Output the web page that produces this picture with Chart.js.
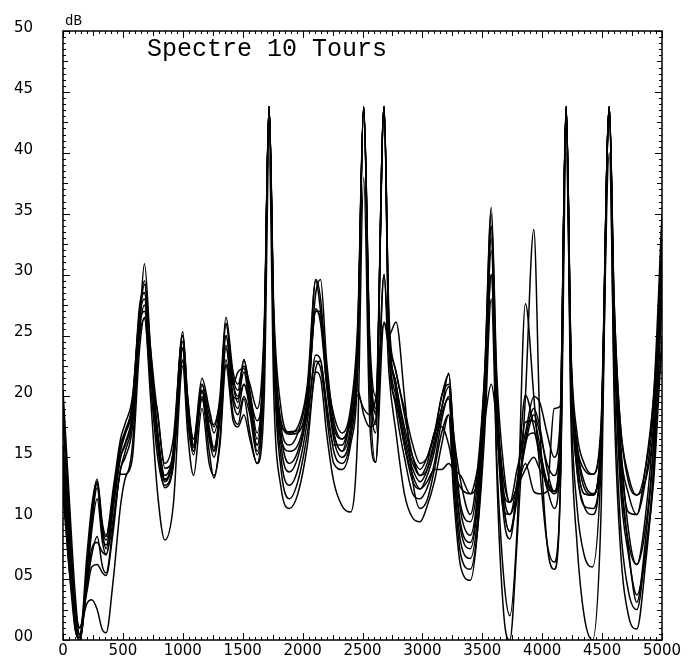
<!DOCTYPE html>
<html>
<head>
<meta charset="utf-8">
<script src="https://cdn.jsdelivr.net/npm/chart.js@4/dist/chart.umd.min.js"></script>
<style>
html,body{margin:0;padding:0;background:#fff;}
#wrap{width:696px;height:656px;position:relative;}
</style>
</head>
<body>
<div id="wrap"><canvas id="c" width="696" height="656"></canvas></div>
<script>
const chartTitle = "Spectre 10 Tours";
const yUnit = "dB";
const xTickValues = [0,500,1000,1500,2000,2500,3000,3500,4000,4500,5000];
const yTickValues = [0,5,10,15,20,25,30,35,40,45,50];

const freqs = [0,50,100,140,200,240,285,330,360,420,
 480,520,580,640,680,730,790,850,920,1000,
 1040,1090,1160,1220,1260,1310,1360,1420,1460,1510,
 1560,1620,1680,1720,1760,1820,1890,1960,2040,2110,
 2150,2200,2260,2330,2400,2460,2510,2560,2610,2680,
 2720,2780,2850,2920,2980,3040,3100,3160,3220,3260,
 3320,3400,3460,3520,3575,3620,3680,3730,3790,3860,
 3930,3980,4040,4100,4150,4200,4240,4290,4350,4420,
 4490,4560,4600,4650,4720,4790,4860,4930,5000];

const tour1 = [20.5,12,4,0.3,7,11,13.2,9.5,8.6,12.5,
 16.5,17.8,20,27,29.5,24,18.5,14.5,16.5,25,
 20,16.5,21.5,19,17.5,20,26.5,22,21,22.5,
 21,19,26,43.8,27,19,17,17.5,21,29.5,
 27,22,18.5,17,19,26,43.8,25,20,43.8,
 27,22,19,16,14.5,15,17,20,21.8,17,
 13,10.3,14,22,35.5,22,14,11.3,14,17,
 20,19.5,17,15,18,43.8,24,17,14.5,13.6,
 17,43.8,28,18,13.5,11.9,14,20,35];

const tour2 = [19.5,11,2.5,0,6,10.5,13,9,8.2,12,
 16,17.2,19.5,27.5,28.5,23,17,13,15.5,25.3,
 19.5,15.8,21,17.5,15.8,19,26,21,19.5,23,
 20,16.5,25,43.8,26,17.5,16,17,20.5,28.5,
 29.6,23,18,16.5,18.5,25,43.8,24,18.5,43.8,
 26,21,17,14.5,13.5,14,16,19,20.8,16,
 10.5,8.6,12,21,34,20,11,8.9,12,16.5,
 19,17.5,14,12.2,16,43.8,23,15,12,11.9,
 16,43.8,27,16,10.5,10.3,13,19,33];

const tour3 = [18,10,1.5,0,5.5,10,12.8,8.7,7.5,11.5,
 15.5,16.9,19,26,27,22,16,13.2,15,24,
 19,15.5,20.4,17,15.5,18.5,24.2,20,19.8,21,
 19.5,15.5,24,43.8,25,16,13.8,15,19,27.2,
 26,21,16.5,15,17,24,43.8,23,17.7,30,
 24,20.5,16,13,12.4,13.5,15.5,18.5,19.8,15,
 9,7.5,11,20,32,19,10,8.3,12.5,20.1,
 17.5,15,12.5,10.8,15,43.8,22,14,11,10.8,
 15,43.8,26,14,8,6.2,9,16,30];

const tour4 = [16,9,2,0.5,5,9.5,12.5,8.5,7.8,11,
 15,16.2,18.5,25,26.4,21,15,12.7,14.5,23.9,
 18.5,15.5,19.8,16.5,15,18,24,19.5,18.5,20,
 18.5,15.2,23,43.8,24,15,12.7,14,18,23.4,
 23,19.5,15.5,14.5,16.5,23,43.8,22,17,43.8,
 25,19,15,12,11.6,12.5,14.5,18,20,14,
 8,6.7,10,19,30,18,10.5,10.3,13,17.9,
 18,16,12.5,12.2,17,43.8,22,14,11,10.3,
 15.5,43.8,25,13,7,3.7,7,14,28];

const tour5 = [14,8,1,0.2,4.5,7.5,8,7.2,7,10,
 14,15.5,18,25.5,27.5,22,18.7,14.1,15,23,
 19,16.5,20.5,18,17.7,19.5,22.6,21,22,22.3,
 20,18,24,43.8,25,17.5,17.1,17.2,18.5,22.9,
 22.3,19,16,16,18,20.1,19,18.5,19.8,26,
 24,22,18.5,15,13.5,14.5,17,17.5,16,14,
 12.5,12,14,18,21,18,13,11.3,12.5,14,
 15,14,13,12.2,13,40,22,16,14,13.6,
 17.5,43.8,28,18,13,11.9,13,17,24];

const tour6 = [13,7,2.5,1,4,6,6.2,5.5,5.3,9,
 13.6,13.6,16,26,29.2,23,16,12.5,14.2,22.9,
 18,15.2,19.8,15.5,13.3,16.5,23,18.5,17.7,19.8,
 17,14.5,23,43.8,23,14,11.6,13,17,22.3,
 22.9,18.5,14.5,14,16,22,43.8,21,14.6,26.1,
 25,26.1,20,13,10.8,11.5,14,17,18.5,13,
 7,5.8,9,17,28,15,5,2,9,27.6,
 20,14,8,6.4,12,43.8,20,11,7,6,
 14,40,22,10,4,2.5,7,13,25];

const tour7 = [13,6,2,1,3,3.3,2.5,0.8,0.6,5,
 11,13.3,15,24,26.5,20,12,8.2,11,22.5,
 17,13.5,19,14.5,13.5,16,22.5,18,17.5,18.5,
 16.5,14.5,20,40,20,12.5,10.8,12,16,22,
 21.5,17,13,11,10.5,17,38,18,14.6,30,
 22,17,12,10,9.7,11,13,16,18.5,12,
 6,4.9,9,19,34,14,2,0,8,20,
 33.7,18,8,5.8,12,43.8,18,8,2,0,
 10,43.8,20,8,2,0.9,6,14,30];

const tour8 = [16,9,3,1,4.5,7,8.5,6,5.5,9.5,
 14,15,17.5,26,30.9,24,17,13.2,15,24.5,
 19,16,20.5,17,15.5,19,25,21,20,22,
 19,16,25,43.8,26,17,14.5,15.5,19,27,
 26.5,21,17,15.5,17.5,24,43.8,23,18.7,43.8,
 25,20,16.5,14,13,14,16.5,20,21,15,
 9.5,8,11.5,21,33,19,11,8.9,11.5,16.3,
 17,15.5,13,12,14,43.8,23,15,12,11.9,
 16,43.8,26,15,7.5,3.1,8,16,32];

const tour9 = [15,8,1.5,0.5,5,9,11.6,8,7,11,
 15,16,18.5,26.5,28,22.5,16.5,13,15,24,
 19,16,20,17,15.5,18.5,25,20,19,21,
 19,16,24,43.8,25,16.5,15.5,16,19.5,27,
 27,21.5,17,15.5,18,20.5,18.5,17.5,18,43.8,
 24,19.5,16,13.5,12.4,13,14,14,14.5,14,
 13.5,12,13,19,30,18,12,11.3,12.5,14.5,
 12.2,12,12.2,19,19.2,43.8,23,16,13,12,
 15,43.8,26,16,12,10.3,14,20,31];

const tour10 = [12,6,1,0,5,10.5,13,9,8.5,12,
 16,17,19.5,27,28.5,23,17,13.5,15.5,25,
 20,16,21,18.5,17,19.5,26,21.5,20.5,23,
 20.5,17,25,43.8,26,18,16.9,17,20,29.6,
 28,22,17.5,16.5,18.5,25,43.8,24,19,43.8,
 26,21,17.5,15,14,15,17,19,21.9,17,
 11,9.7,13,22,35,21,12,10.3,12,16,
 18.5,17,14.5,13.5,17,43.8,23.5,16,12.5,11.9,
 16.5,43.8,27,17,9,6.2,10,18,34];

const allTours = [tour1,tour2,tour3,tour4,tour5,tour6,tour7,tour8,tour9,tour10];

const datasets = allTours.map((arr, k) => ({
  label: 'Tour ' + (k + 1),
  data: arr.map((v, i) => ({x: freqs[i], y: v})),
  borderColor: '#000',
  borderWidth: 1.5,
  pointRadius: 0,
  fill: false,
  cubicInterpolationMode: 'monotone'
}));

const framePlugin = {
  id: 'frame',
  afterDatasetsDraw(chart) {
    const ctx = chart.ctx;
    const {left, right, top, bottom} = chart.chartArea;
    const xs = chart.scales.x, ys = chart.scales.y;
    ctx.save();
    ctx.strokeStyle = '#000';
    ctx.lineWidth = 1.5;
    ctx.strokeRect(left, top, right - left, bottom - top);
    ctx.lineWidth = 1;
    ctx.beginPath();
    for (let v = 0; v <= 5000; v += 50) {
      const px = Math.round(xs.getPixelForValue(v)) + 0.5;
      const len = v % 500 === 0 ? 7 : (v % 250 === 0 ? 5 : 3);
      ctx.moveTo(px, bottom); ctx.lineTo(px, bottom - len);
      ctx.moveTo(px, top); ctx.lineTo(px, top + len);
    }
    for (let i = 0; i <= 100; i++) {
      const v = i * 0.5;
      const py = Math.round(ys.getPixelForValue(v)) + 0.5;
      const len = i % 10 === 0 ? 7 : (i % 5 === 0 ? 5 : 3);
      ctx.moveTo(left, py); ctx.lineTo(left + len, py);
      ctx.moveTo(right, py); ctx.lineTo(right - len, py);
    }
    ctx.stroke();
    ctx.fillStyle = '#000';
    // y tick labels
    ctx.font = '15px "DejaVu Sans"';
    ctx.textAlign = 'right';
    ctx.textBaseline = 'middle';
    yTickValues.forEach(v => {
      ctx.fillText(String(v).padStart(2, '0'), 33, ys.getPixelForValue(v) - 3);
    });
    ctx.textBaseline = 'alphabetic';
    ctx.textAlign = 'left';
    ctx.font = '25px "Liberation Mono"';
    ctx.fillText(chartTitle, 147, 56);
    ctx.font = '14px "Liberation Mono"';
    ctx.fillText(yUnit, 65, 25);
    ctx.restore();
  }
};

new Chart(document.getElementById('c'), {
  type: 'line',
  data: { datasets },
  options: {
    responsive: false,
    animation: false,
    events: [],
    layout: { padding: { top: 31, right: 34, left: 0, bottom: 0 } },
    plugins: { legend: { display: false }, tooltip: { enabled: false }, title: { display: false } },
    scales: {
      x: {
        type: 'linear',
        min: 0, max: 5000,
        grid: { display: false, drawTicks: false },
        border: { display: false },
        afterFit(s) { s.height = 16; },
        afterBuildTicks(s) { s.ticks = xTickValues.map(v => ({ value: v })); },
        ticks: {
          autoSkip: false, maxRotation: 0, padding: 2,
          color: '#000',
          font: { family: 'DejaVu Sans', size: 15 },
          callback: v => String(v)
        }
      },
      y: {
        type: 'linear',
        min: 0, max: 50,
        grid: { display: false, drawTicks: false },
        border: { display: false },
        afterFit(s) { s.width = 63; },
        ticks: { display: false }
      }
    }
  },
  plugins: [framePlugin]
});
</script>
</body>
</html>
